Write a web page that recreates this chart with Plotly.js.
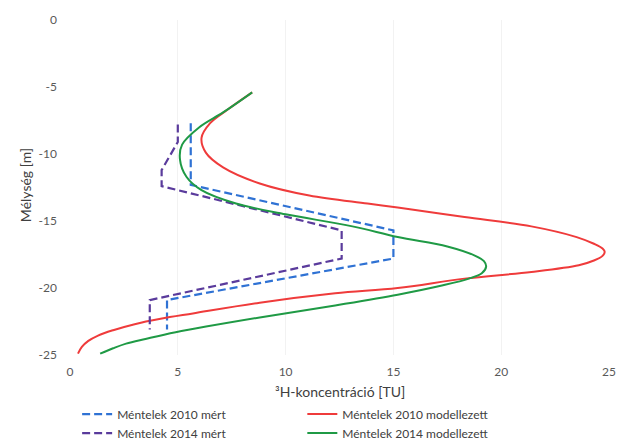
<!DOCTYPE html>
<html>
<head>
<meta charset="utf-8">
<script src="https://cdn.plot.ly/plotly-3.0.1.min.js"></script>
<style>html,body{margin:0;padding:0;background:#fff;}#chart{width:617px;height:444px;}</style>
</head>
<body>
<div id="chart"></div>
<script>
// Measured 2010 (blue, dashed)
const meas2010_x = [5.6, 5.6, 15.0, 15.0, 4.5, 4.5];
const meas2010_y = [-7.7, -12.3, -15.7, -17.8, -20.9, -23.1];
// Measured 2014 (purple, dashed)
const meas2014_x = [5.0, 5.0, 4.25, 4.25, 12.6, 12.6, 3.7, 3.7];
const meas2014_y = [-7.8, -9.1, -11.2, -12.4, -15.7, -17.8, -20.9, -23.1];
// Modelled 2010 (red)
const mod2010_x = [8.45, 7.3, 6.5, 6.1, 6.3, 7.1, 8.8, 11.1, 13.8, 15.2, 18.3, 21.4, 23.5, 24.3, 24.7, 24.8, 24.7, 24.3, 23.6, 21.4, 18.3, 15.2, 12.3, 8.8, 5.7, 4.2, 3.0, 2.0, 1.3, 0.85, 0.55, 0.37];
const mod2010_y = [-5.4, -6.7, -7.7, -8.8, -9.9, -11.0, -12.2, -13.1, -13.7, -14.0, -14.7, -15.4, -16.2, -16.7, -17.05, -17.3, -17.6, -17.95, -18.3, -18.8, -19.3, -20.0, -20.4, -21.1, -21.9, -22.3, -22.7, -23.15, -23.55, -23.95, -24.4, -24.9];
// Modelled 2014 (green)
const mod2014_x = [8.45, 7.1, 6.0, 5.2, 5.1, 5.4, 6.1, 7.7, 10.0, 13.1, 15.2, 17.5, 18.8, 19.2, 19.3, 19.1, 18.5, 17.3, 15.2, 12.3, 8.8, 4.9, 3.5, 2.6, 2.0, 1.4];
const mod2014_y = [-5.4, -6.9, -8.0, -9.3, -10.4, -11.7, -12.7, -13.7, -14.5, -15.4, -16.2, -16.9, -17.6, -18.0, -18.4, -18.9, -19.3, -19.8, -20.5, -21.3, -22.2, -23.3, -23.8, -24.15, -24.5, -24.9];

const names = ["Méntelek 2010 mért", "Méntelek 2010 modellezett", "Méntelek 2014 mért", "Méntelek 2014 modellezett"];
const xTicks = [0, 5, 10, 15, 20, 25];
const yTicks = [0, -5, -10, -15, -20, -25];
const xTitle = "³H-koncentráció [TU]";
const yTitle = "Mélység [m]";

const traces = [
  {x: meas2010_x, y: meas2010_y, name: names[0], mode: "lines", legend: "legend",
   line: {color: "#2f72d4", width: 2.2, dash: "8px,4px"}},
  {x: mod2010_x, y: mod2010_y, name: names[1], mode: "lines", legend: "legend2",
   line: {color: "#ef3b3b", width: 2, shape: "spline", smoothing: 1}},
  {x: meas2014_x, y: meas2014_y, name: names[2], mode: "lines", legend: "legend",
   line: {color: "#5a3b9c", width: 2.2, dash: "8px,4px"}},
  {x: mod2014_x, y: mod2014_y, name: names[3], mode: "lines", legend: "legend2",
   line: {color: "#1f9a45", width: 2, shape: "spline", smoothing: 1}}
];

const tickFont = {family: "Lato, 'Open Sans', sans-serif", size: 12, color: "#595959"};
const titleFont = {family: "Lato, sans-serif", size: 14, color: "#404040"};
const legFont = {family: "Lato, sans-serif", size: 12, color: "#404040"};
const layout = {
  width: 617, height: 444,
  margin: {l: 70, r: 8, t: 20, b: 89, autoexpand: false},
  paper_bgcolor: "#fff", plot_bgcolor: "#fff",
  showlegend: true,
  font: tickFont,
  xaxis: {range: [0, 25], tickvals: xTicks, ticktext: xTicks.map(String), showgrid: true, gridcolor: "#f2f2f2",
          zeroline: false, showline: false, ticks: "", ticklabelstandoff: 8, ticklabeloverflow: "allow", automargin: false},
  yaxis: {range: [-25, 0], tickvals: yTicks, ticktext: yTicks.map(String), showgrid: false, automargin: false,
          zeroline: false, showline: false, ticks: "", ticklabelstandoff: 12},
  annotations: [
    {text: yTitle, xref: "paper", yref: "paper", x: -0.0835, y: 0.507, xanchor: "center", yanchor: "middle",
     textangle: -90, showarrow: false, font: titleFont},
    {text: xTitle, xref: "paper", yref: "paper", x: 0.5, y: -0.1104, xanchor: "center", yanchor: "middle",
     showarrow: false, font: titleFont}
  ],
  legend: {orientation: "v", xref: "container", yref: "container", x: 0.125, xanchor: "left", y: 0.1, yanchor: "top",
           tracegroupgap: 0, itemwidth: 30, bgcolor: "rgba(0,0,0,0)", font: legFont},
  legend2: {orientation: "v", xref: "container", yref: "container", x: 0.49, xanchor: "left", y: 0.1, yanchor: "top",
           tracegroupgap: 0, itemwidth: 30, bgcolor: "rgba(0,0,0,0)", font: legFont}
};
Plotly.newPlot("chart", traces, layout, {displayModeBar: false, staticPlot: true});
</script>
</body>
</html>
